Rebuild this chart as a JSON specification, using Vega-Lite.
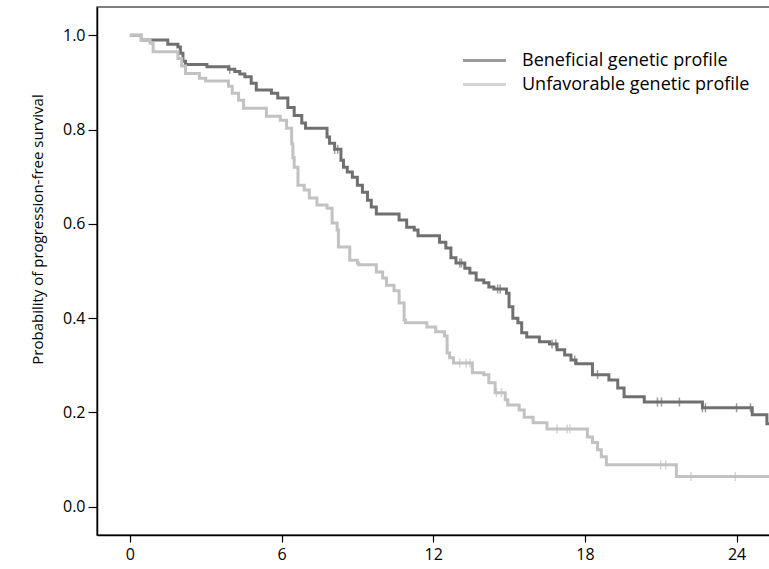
{
  "$schema": "https://vega.github.io/schema/vega-lite/v6.json",
  "autosize": "none",
  "padding": {"left": 97, "top": 7, "right": 0, "bottom": 34},
  "width": 680,
  "height": 528,
  "background": "white",
  "config": {
    "font": "Open Sans",
    "view": {"stroke": "#555555", "strokeWidth": 1.5},
    "axis": {"grid": false, "domainColor": "#000000", "domainWidth": 1.5, "tickColor": "#000000", "tickWidth": 1.2, "labelColor": "#000000", "labelFontSize": 16, "titleColor": "#000000", "titleFontSize": 15, "titleFontWeight": "normal", "labelFont": "Open Sans", "titleFont": "Open Sans"}
  },
  "datasets": {
    "km": [
      {"group": "Beneficial genetic profile", "t": 0, "s": 1.0},
      {"group": "Beneficial genetic profile", "t": 0.45, "s": 0.99},
      {"group": "Beneficial genetic profile", "t": 1.5, "s": 0.981},
      {"group": "Beneficial genetic profile", "t": 1.9, "s": 0.975},
      {"group": "Beneficial genetic profile", "t": 2.0, "s": 0.962},
      {"group": "Beneficial genetic profile", "t": 2.1, "s": 0.945},
      {"group": "Beneficial genetic profile", "t": 2.2, "s": 0.938},
      {"group": "Beneficial genetic profile", "t": 3.05, "s": 0.933},
      {"group": "Beneficial genetic profile", "t": 3.9, "s": 0.928},
      {"group": "Beneficial genetic profile", "t": 4.15, "s": 0.923},
      {"group": "Beneficial genetic profile", "t": 4.35, "s": 0.918},
      {"group": "Beneficial genetic profile", "t": 4.55, "s": 0.912},
      {"group": "Beneficial genetic profile", "t": 4.8, "s": 0.898},
      {"group": "Beneficial genetic profile", "t": 5.0, "s": 0.884},
      {"group": "Beneficial genetic profile", "t": 5.6, "s": 0.877},
      {"group": "Beneficial genetic profile", "t": 5.85, "s": 0.867},
      {"group": "Beneficial genetic profile", "t": 6.25, "s": 0.847},
      {"group": "Beneficial genetic profile", "t": 6.5, "s": 0.83},
      {"group": "Beneficial genetic profile", "t": 6.8, "s": 0.814},
      {"group": "Beneficial genetic profile", "t": 6.95, "s": 0.803},
      {"group": "Beneficial genetic profile", "t": 7.8, "s": 0.784},
      {"group": "Beneficial genetic profile", "t": 7.9, "s": 0.771},
      {"group": "Beneficial genetic profile", "t": 8.1, "s": 0.758},
      {"group": "Beneficial genetic profile", "t": 8.35, "s": 0.735},
      {"group": "Beneficial genetic profile", "t": 8.45, "s": 0.72},
      {"group": "Beneficial genetic profile", "t": 8.6, "s": 0.71},
      {"group": "Beneficial genetic profile", "t": 8.8, "s": 0.699},
      {"group": "Beneficial genetic profile", "t": 9.0, "s": 0.682},
      {"group": "Beneficial genetic profile", "t": 9.2, "s": 0.667},
      {"group": "Beneficial genetic profile", "t": 9.4, "s": 0.65},
      {"group": "Beneficial genetic profile", "t": 9.55, "s": 0.636},
      {"group": "Beneficial genetic profile", "t": 9.75, "s": 0.621},
      {"group": "Beneficial genetic profile", "t": 10.65, "s": 0.608},
      {"group": "Beneficial genetic profile", "t": 10.95, "s": 0.593},
      {"group": "Beneficial genetic profile", "t": 11.25, "s": 0.587},
      {"group": "Beneficial genetic profile", "t": 11.4, "s": 0.575},
      {"group": "Beneficial genetic profile", "t": 12.25, "s": 0.561},
      {"group": "Beneficial genetic profile", "t": 12.5, "s": 0.549},
      {"group": "Beneficial genetic profile", "t": 12.7, "s": 0.528},
      {"group": "Beneficial genetic profile", "t": 12.9, "s": 0.517},
      {"group": "Beneficial genetic profile", "t": 13.25, "s": 0.506},
      {"group": "Beneficial genetic profile", "t": 13.45, "s": 0.496},
      {"group": "Beneficial genetic profile", "t": 13.7, "s": 0.481},
      {"group": "Beneficial genetic profile", "t": 14.0, "s": 0.475},
      {"group": "Beneficial genetic profile", "t": 14.2, "s": 0.466},
      {"group": "Beneficial genetic profile", "t": 14.4, "s": 0.462},
      {"group": "Beneficial genetic profile", "t": 14.9, "s": 0.453},
      {"group": "Beneficial genetic profile", "t": 15.0, "s": 0.424},
      {"group": "Beneficial genetic profile", "t": 15.15, "s": 0.4},
      {"group": "Beneficial genetic profile", "t": 15.35, "s": 0.39},
      {"group": "Beneficial genetic profile", "t": 15.5, "s": 0.369},
      {"group": "Beneficial genetic profile", "t": 15.7, "s": 0.36},
      {"group": "Beneficial genetic profile", "t": 16.2, "s": 0.35},
      {"group": "Beneficial genetic profile", "t": 16.6, "s": 0.345},
      {"group": "Beneficial genetic profile", "t": 16.9, "s": 0.333},
      {"group": "Beneficial genetic profile", "t": 17.2, "s": 0.322},
      {"group": "Beneficial genetic profile", "t": 17.45, "s": 0.311},
      {"group": "Beneficial genetic profile", "t": 17.65, "s": 0.303},
      {"group": "Beneficial genetic profile", "t": 18.3, "s": 0.28},
      {"group": "Beneficial genetic profile", "t": 18.95, "s": 0.269},
      {"group": "Beneficial genetic profile", "t": 19.3, "s": 0.252},
      {"group": "Beneficial genetic profile", "t": 19.55, "s": 0.233},
      {"group": "Beneficial genetic profile", "t": 20.35, "s": 0.222},
      {"group": "Beneficial genetic profile", "t": 22.65, "s": 0.21},
      {"group": "Beneficial genetic profile", "t": 24.62, "s": 0.195},
      {"group": "Beneficial genetic profile", "t": 25.2, "s": 0.176},
      {"group": "Beneficial genetic profile", "t": 25.6, "s": 0.176},
      {"group": "Unfavorable genetic profile", "t": 0, "s": 1.0},
      {"group": "Unfavorable genetic profile", "t": 0.46, "s": 0.99},
      {"group": "Unfavorable genetic profile", "t": 0.8, "s": 0.983},
      {"group": "Unfavorable genetic profile", "t": 0.92, "s": 0.965},
      {"group": "Unfavorable genetic profile", "t": 1.9, "s": 0.951},
      {"group": "Unfavorable genetic profile", "t": 2.05, "s": 0.935},
      {"group": "Unfavorable genetic profile", "t": 2.2, "s": 0.919},
      {"group": "Unfavorable genetic profile", "t": 2.75, "s": 0.909},
      {"group": "Unfavorable genetic profile", "t": 3.0, "s": 0.903},
      {"group": "Unfavorable genetic profile", "t": 3.9, "s": 0.892},
      {"group": "Unfavorable genetic profile", "t": 4.05, "s": 0.877},
      {"group": "Unfavorable genetic profile", "t": 4.3, "s": 0.862},
      {"group": "Unfavorable genetic profile", "t": 4.5, "s": 0.845},
      {"group": "Unfavorable genetic profile", "t": 5.4, "s": 0.828},
      {"group": "Unfavorable genetic profile", "t": 5.95, "s": 0.82},
      {"group": "Unfavorable genetic profile", "t": 6.2, "s": 0.803},
      {"group": "Unfavorable genetic profile", "t": 6.4, "s": 0.77},
      {"group": "Unfavorable genetic profile", "t": 6.45, "s": 0.74},
      {"group": "Unfavorable genetic profile", "t": 6.5, "s": 0.72},
      {"group": "Unfavorable genetic profile", "t": 6.65, "s": 0.682},
      {"group": "Unfavorable genetic profile", "t": 6.9, "s": 0.672},
      {"group": "Unfavorable genetic profile", "t": 7.1, "s": 0.655},
      {"group": "Unfavorable genetic profile", "t": 7.4, "s": 0.64},
      {"group": "Unfavorable genetic profile", "t": 7.8, "s": 0.633},
      {"group": "Unfavorable genetic profile", "t": 8.0, "s": 0.602},
      {"group": "Unfavorable genetic profile", "t": 8.2, "s": 0.587},
      {"group": "Unfavorable genetic profile", "t": 8.25, "s": 0.551},
      {"group": "Unfavorable genetic profile", "t": 8.7, "s": 0.523},
      {"group": "Unfavorable genetic profile", "t": 9.0, "s": 0.517},
      {"group": "Unfavorable genetic profile", "t": 9.05, "s": 0.513},
      {"group": "Unfavorable genetic profile", "t": 9.75, "s": 0.498},
      {"group": "Unfavorable genetic profile", "t": 10.0, "s": 0.485},
      {"group": "Unfavorable genetic profile", "t": 10.15, "s": 0.47},
      {"group": "Unfavorable genetic profile", "t": 10.45, "s": 0.458},
      {"group": "Unfavorable genetic profile", "t": 10.65, "s": 0.432},
      {"group": "Unfavorable genetic profile", "t": 10.85, "s": 0.396},
      {"group": "Unfavorable genetic profile", "t": 10.9, "s": 0.39},
      {"group": "Unfavorable genetic profile", "t": 11.75, "s": 0.381},
      {"group": "Unfavorable genetic profile", "t": 12.1, "s": 0.371},
      {"group": "Unfavorable genetic profile", "t": 12.45, "s": 0.362},
      {"group": "Unfavorable genetic profile", "t": 12.55, "s": 0.326},
      {"group": "Unfavorable genetic profile", "t": 12.65, "s": 0.316},
      {"group": "Unfavorable genetic profile", "t": 12.8, "s": 0.305},
      {"group": "Unfavorable genetic profile", "t": 13.55, "s": 0.284},
      {"group": "Unfavorable genetic profile", "t": 14.0, "s": 0.28},
      {"group": "Unfavorable genetic profile", "t": 14.2, "s": 0.263},
      {"group": "Unfavorable genetic profile", "t": 14.45, "s": 0.242},
      {"group": "Unfavorable genetic profile", "t": 14.85, "s": 0.227},
      {"group": "Unfavorable genetic profile", "t": 14.95, "s": 0.216},
      {"group": "Unfavorable genetic profile", "t": 15.4, "s": 0.205},
      {"group": "Unfavorable genetic profile", "t": 15.6, "s": 0.19},
      {"group": "Unfavorable genetic profile", "t": 15.95, "s": 0.178},
      {"group": "Unfavorable genetic profile", "t": 16.5, "s": 0.165},
      {"group": "Unfavorable genetic profile", "t": 18.1, "s": 0.148},
      {"group": "Unfavorable genetic profile", "t": 18.3, "s": 0.136},
      {"group": "Unfavorable genetic profile", "t": 18.5, "s": 0.121},
      {"group": "Unfavorable genetic profile", "t": 18.65, "s": 0.106},
      {"group": "Unfavorable genetic profile", "t": 18.85, "s": 0.089},
      {"group": "Unfavorable genetic profile", "t": 21.62, "s": 0.064},
      {"group": "Unfavorable genetic profile", "t": 25.6, "s": 0.064}
    ],
    "censor": [
      {"group": "Beneficial genetic profile", "t": 3.95, "s": 0.928},
      {"group": "Beneficial genetic profile", "t": 8.1, "s": 0.758},
      {"group": "Beneficial genetic profile", "t": 8.22, "s": 0.758},
      {"group": "Beneficial genetic profile", "t": 13.05, "s": 0.517},
      {"group": "Beneficial genetic profile", "t": 13.12, "s": 0.517},
      {"group": "Beneficial genetic profile", "t": 14.55, "s": 0.462},
      {"group": "Beneficial genetic profile", "t": 14.65, "s": 0.462},
      {"group": "Beneficial genetic profile", "t": 16.7, "s": 0.345},
      {"group": "Beneficial genetic profile", "t": 16.85, "s": 0.345},
      {"group": "Beneficial genetic profile", "t": 17.6, "s": 0.311},
      {"group": "Beneficial genetic profile", "t": 18.5, "s": 0.28},
      {"group": "Beneficial genetic profile", "t": 20.87, "s": 0.222},
      {"group": "Beneficial genetic profile", "t": 21.03, "s": 0.222},
      {"group": "Beneficial genetic profile", "t": 21.74, "s": 0.222},
      {"group": "Beneficial genetic profile", "t": 22.65, "s": 0.21},
      {"group": "Beneficial genetic profile", "t": 22.77, "s": 0.21},
      {"group": "Beneficial genetic profile", "t": 24.0, "s": 0.21},
      {"group": "Beneficial genetic profile", "t": 24.55, "s": 0.21},
      {"group": "Unfavorable genetic profile", "t": 13.05, "s": 0.305},
      {"group": "Unfavorable genetic profile", "t": 13.3, "s": 0.305},
      {"group": "Unfavorable genetic profile", "t": 13.45, "s": 0.305},
      {"group": "Unfavorable genetic profile", "t": 14.5, "s": 0.242},
      {"group": "Unfavorable genetic profile", "t": 14.7, "s": 0.242},
      {"group": "Unfavorable genetic profile", "t": 16.9, "s": 0.165},
      {"group": "Unfavorable genetic profile", "t": 17.3, "s": 0.165},
      {"group": "Unfavorable genetic profile", "t": 17.4, "s": 0.165},
      {"group": "Unfavorable genetic profile", "t": 21.0, "s": 0.089},
      {"group": "Unfavorable genetic profile", "t": 21.2, "s": 0.089},
      {"group": "Unfavorable genetic profile", "t": 22.2, "s": 0.064},
      {"group": "Unfavorable genetic profile", "t": 23.95, "s": 0.064}
    ]
  },
  "encoding": {
    "x": {"field": "t", "type": "quantitative", "scale": {"domain": [-1.3, 25.6], "nice": false, "zero": false}, "axis": {"values": [0, 6, 12, 18, 24], "title": null, "tickSize": 7, "labelPadding": 4}},
    "y": {"field": "s", "type": "quantitative", "scale": {"domain": [-0.06, 1.06], "nice": false, "zero": false}, "axis": {"values": [0, 0.2, 0.4, 0.6, 0.8, 1.0], "format": ".1f", "title": "Probability of progression-free survival", "tickSize": 9, "labelPadding": 3, "titlePadding": 17, "titleY": 222}},
    "color": {"field": "group", "type": "nominal", "scale": {"domain": ["Beneficial genetic profile", "Unfavorable genetic profile"], "range": ["#707070", "#c2c2c2"]}, "legend": {"title": null, "orient": "none", "legendX": 375, "legendY": 41, "symbolType": "M-2,0H2", "symbolStrokeWidth": 3, "symbolSize": 462, "symbolFillColor": "transparent", "labelFontSize": 18, "labelFont": "Open Sans", "labelColor": "#000000", "labelOffset": 25, "labelLimit": 0, "rowPadding": 2}}
  },
  "layer": [
    {"data": {"name": "km"}, "mark": {"type": "line", "interpolate": "step-after", "strokeWidth": 3, "clip": true}},
    {"data": {"name": "censor"}, "mark": {"type": "tick", "orient": "vertical", "size": 9, "thickness": 1.5, "clip": true}}
  ]
}
